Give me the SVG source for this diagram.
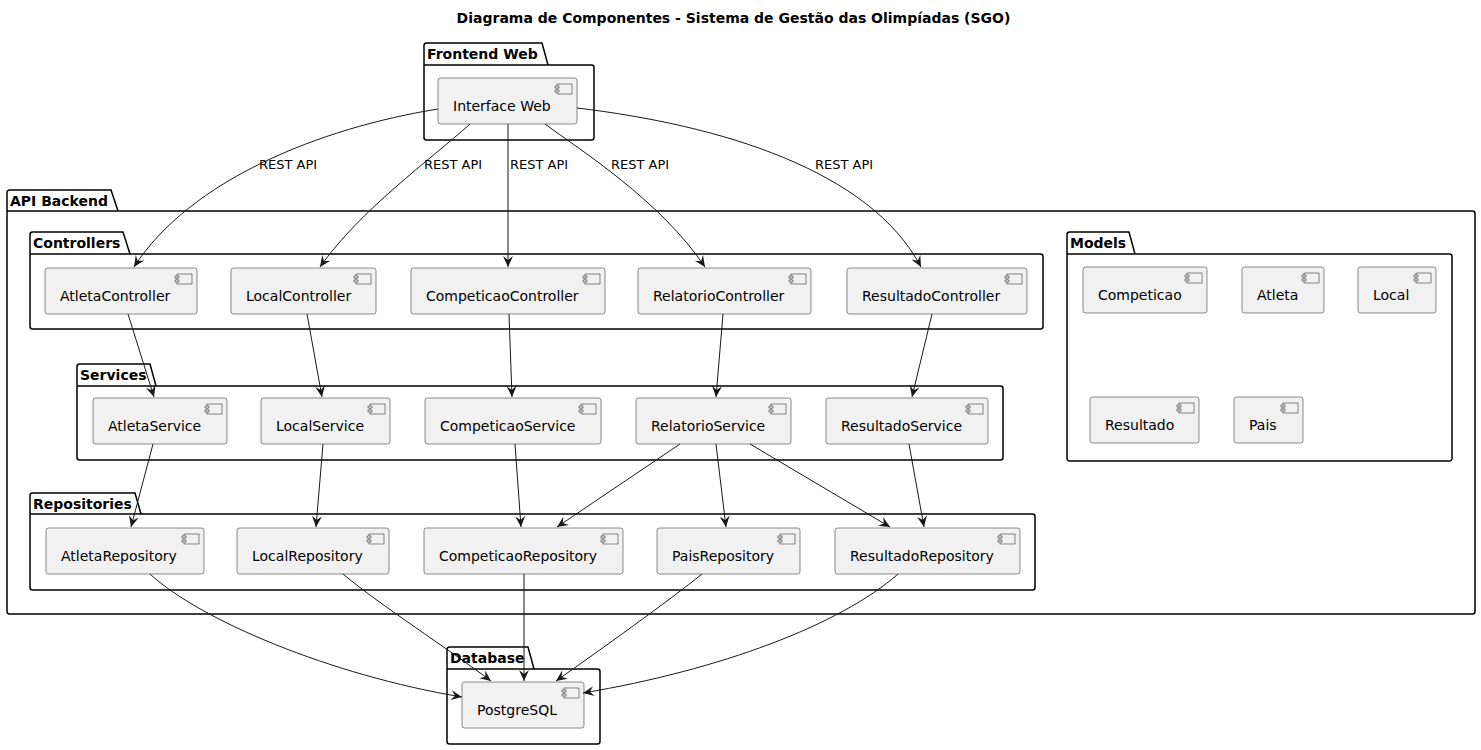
<svg xmlns="http://www.w3.org/2000/svg" width="1481" height="750" viewBox="0 0 1481 750">
<style>
.pkg{fill:none;stroke:#000;stroke-width:1.5}
.comp{fill:#F1F1F1;stroke:#181818;stroke-width:0.5}
.ico{fill:#F1F1F1;stroke:#181818;stroke-width:0.5}
.t{font-family:"DejaVu Sans",sans-serif;font-size:14px;fill:#000}
.pt{font-family:"DejaVu Sans",sans-serif;font-size:14px;font-weight:bold;fill:#000}
.el{font-family:"DejaVu Sans",sans-serif;font-size:13px;fill:#000}
.e{fill:none;stroke:#181818;stroke-width:1;marker-end:url(#arr)}
</style>
<defs>
<marker id="arr" markerUnits="userSpaceOnUse" viewBox="-12 -6 13 12" refX="0" refY="0" markerWidth="13" markerHeight="12" orient="auto">
<path d="M0,0 L-11,-5 L-7,0 L-11,5 Z" fill="#181818"/>
</marker>
<g id="icon">
<rect x="0" y="0" width="15" height="10" class="ico"/>
<rect x="-2" y="2" width="4" height="2" class="ico"/>
<rect x="-2" y="6" width="4" height="2" class="ico"/>
</g>
</defs>
<rect width="1481" height="750" fill="#fff"/>
<text x="733.5" y="23" text-anchor="middle" class="pt">Diagrama de Componentes - Sistema de Gestão das Olimpíadas (SGO)</text>

<!-- packages -->
<g id="pkg-frontend">
<path class="pkg" d="M426.5,43 L542,43 L548,65 L591.5,65 A2.5,2.5 0 0 1 594,67.5 L594,137.5 A2.5,2.5 0 0 1 591.5,140 L426.5,140 A2.5,2.5 0 0 1 424,137.5 L424,45.5 A2.5,2.5 0 0 1 426.5,43 Z M424,65 L548,65"/>
<text x="427" y="58.5" class="pt">Frontend Web</text>
</g>
<g id="pkg-api">
<path class="pkg" d="M9.5,190 L111,190 L118,211 L1472.5,211 A2.5,2.5 0 0 1 1475,213.5 L1475,611.5 A2.5,2.5 0 0 1 1472.5,614 L9.5,614 A2.5,2.5 0 0 1 7,611.5 L7,192.5 A2.5,2.5 0 0 1 9.5,190 Z M7,211 L118,211"/>
<text x="10" y="205.5" class="pt">API Backend</text>
</g>
<g id="pkg-controllers">
<path class="pkg" d="M32.5,232 L123,232 L130,254 L1040.5,254 A2.5,2.5 0 0 1 1043,256.5 L1043,326.5 A2.5,2.5 0 0 1 1040.5,329 L32.5,329 A2.5,2.5 0 0 1 30,326.5 L30,234.5 A2.5,2.5 0 0 1 32.5,232 Z M30,254 L130,254"/>
<text x="33" y="247.5" class="pt">Controllers</text>
</g>
<g id="pkg-services">
<path class="pkg" d="M79.5,364 L150,364 L156,386 L1000.5,386 A2.5,2.5 0 0 1 1003,388.5 L1003,457.5 A2.5,2.5 0 0 1 1000.5,460 L79.5,460 A2.5,2.5 0 0 1 77,457.5 L77,366.5 A2.5,2.5 0 0 1 79.5,364 Z M77,386 L156,386"/>
<text x="80" y="379.5" class="pt">Services</text>
</g>
<g id="pkg-repositories">
<path class="pkg" d="M32.5,493 L135,493 L141,514 L1032.5,514 A2.5,2.5 0 0 1 1035,516.5 L1035,587.5 A2.5,2.5 0 0 1 1032.5,590 L32.5,590 A2.5,2.5 0 0 1 30,587.5 L30,495.5 A2.5,2.5 0 0 1 32.5,493 Z M30,514 L141,514"/>
<text x="33" y="508.5" class="pt">Repositories</text>
</g>
<g id="pkg-models">
<path class="pkg" d="M1069.5,232 L1129,232 L1135,254 L1449.5,254 A2.5,2.5 0 0 1 1452,256.5 L1452,458.5 A2.5,2.5 0 0 1 1449.5,461 L1069.5,461 A2.5,2.5 0 0 1 1067,458.5 L1067,234.5 A2.5,2.5 0 0 1 1069.5,232 Z M1067,254 L1135,254"/>
<text x="1070" y="247.5" class="pt">Models</text>
</g>
<g id="pkg-database">
<path class="pkg" d="M449.5,647 L528,647 L534,669 L597.5,669 A2.5,2.5 0 0 1 600,671.5 L600,741.5 A2.5,2.5 0 0 1 597.5,744 L449.5,744 A2.5,2.5 0 0 1 447,741.5 L447,649.5 A2.5,2.5 0 0 1 449.5,647 Z M447,669 L534,669"/>
<text x="450" y="662.5" class="pt">Database</text>
</g>

<!-- components -->
<g id="InterfaceWeb"><rect class="comp" x="438" y="78" width="139" height="46" rx="2.5"/><use href="#icon" x="557" y="84"/><text x="453" y="111" class="t">Interface Web</text></g>

<g id="AtletaController"><rect class="comp" x="45" y="268" width="152" height="46" rx="2.5"/><use href="#icon" x="177" y="274"/><text x="60" y="301" class="t">AtletaController</text></g>
<g id="LocalController"><rect class="comp" x="231" y="268" width="145" height="46" rx="2.5"/><use href="#icon" x="356" y="274"/><text x="246" y="301" class="t">LocalController</text></g>
<g id="CompeticaoController"><rect class="comp" x="411" y="268" width="194" height="46" rx="2.5"/><use href="#icon" x="585" y="274"/><text x="426" y="301" class="t">CompeticaoController</text></g>
<g id="RelatorioController"><rect class="comp" x="638" y="268" width="173" height="46" rx="2.5"/><use href="#icon" x="791" y="274"/><text x="653" y="301" class="t">RelatorioController</text></g>
<g id="ResultadoController"><rect class="comp" x="847" y="268" width="180" height="46" rx="2.5"/><use href="#icon" x="1007" y="274"/><text x="862" y="301" class="t">ResultadoController</text></g>

<g id="AtletaService"><rect class="comp" x="93" y="398" width="134" height="46" rx="2.5"/><use href="#icon" x="207" y="404"/><text x="108" y="431" class="t">AtletaService</text></g>
<g id="LocalService"><rect class="comp" x="261" y="398" width="129" height="46" rx="2.5"/><use href="#icon" x="370" y="404"/><text x="276" y="431" class="t">LocalService</text></g>
<g id="CompeticaoService"><rect class="comp" x="425" y="398" width="176" height="46" rx="2.5"/><use href="#icon" x="581" y="404"/><text x="440" y="431" class="t">CompeticaoService</text></g>
<g id="RelatorioService"><rect class="comp" x="636" y="398" width="155" height="46" rx="2.5"/><use href="#icon" x="771" y="404"/><text x="651" y="431" class="t">RelatorioService</text></g>
<g id="ResultadoService"><rect class="comp" x="826" y="398" width="162" height="46" rx="2.5"/><use href="#icon" x="968" y="404"/><text x="841" y="431" class="t">ResultadoService</text></g>

<g id="AtletaRepository"><rect class="comp" x="46" y="528" width="158" height="46" rx="2.5"/><use href="#icon" x="184" y="534"/><text x="61" y="561" class="t">AtletaRepository</text></g>
<g id="LocalRepository"><rect class="comp" x="237" y="528" width="152" height="46" rx="2.5"/><use href="#icon" x="369" y="534"/><text x="252" y="561" class="t">LocalRepository</text></g>
<g id="CompeticaoRepository"><rect class="comp" x="424" y="528" width="199" height="46" rx="2.5"/><use href="#icon" x="603" y="534"/><text x="439" y="561" class="t">CompeticaoRepository</text></g>
<g id="PaisRepository"><rect class="comp" x="657" y="528" width="143" height="46" rx="2.5"/><use href="#icon" x="780" y="534"/><text x="672" y="561" class="t">PaisRepository</text></g>
<g id="ResultadoRepository"><rect class="comp" x="835" y="528" width="185" height="46" rx="2.5"/><use href="#icon" x="1000" y="534"/><text x="850" y="561" class="t">ResultadoRepository</text></g>

<g id="Competicao"><rect class="comp" x="1083" y="267" width="124" height="46" rx="2.5"/><use href="#icon" x="1187" y="273"/><text x="1098" y="300" class="t">Competicao</text></g>
<g id="Atleta"><rect class="comp" x="1242" y="267" width="82" height="46" rx="2.5"/><use href="#icon" x="1304" y="273"/><text x="1257" y="300" class="t">Atleta</text></g>
<g id="Local"><rect class="comp" x="1358" y="267" width="78" height="46" rx="2.5"/><use href="#icon" x="1416" y="273"/><text x="1373" y="300" class="t">Local</text></g>
<g id="Resultado"><rect class="comp" x="1090" y="397" width="109" height="46" rx="2.5"/><use href="#icon" x="1179" y="403"/><text x="1105" y="430" class="t">Resultado</text></g>
<g id="Pais"><rect class="comp" x="1234" y="397" width="69" height="46" rx="2.5"/><use href="#icon" x="1283" y="403"/><text x="1249" y="430" class="t">Pais</text></g>

<g id="PostgreSQL"><rect class="comp" x="462" y="682" width="122" height="46" rx="2.5"/><use href="#icon" x="564" y="688"/><text x="477" y="715" class="t">PostgreSQL</text></g>

<!-- connectors -->
<g id="connectors">
<path class="e" d="M438,109 C320,128 190,180 134,267"/>
<path class="e" d="M470,124 C430,160 360,210 320,267"/>
<path class="e" d="M508,124 L508,267"/>
<path class="e" d="M545,124 C580,150 660,200 705,267"/>
<path class="e" d="M577,108 C720,125 870,170 921,267"/>
<text x="259" y="169" class="el">REST API</text>
<text x="424" y="169" class="el">REST API</text>
<text x="510" y="169" class="el">REST API</text>
<text x="611" y="169" class="el">REST API</text>
<text x="815" y="169" class="el">REST API</text>

<path class="e" d="M128,314 L154,397"/>
<path class="e" d="M307,314 L322,397"/>
<path class="e" d="M509,314 L512,397"/>
<path class="e" d="M723,314 L716,397"/>
<path class="e" d="M932,314 L912,397"/>

<path class="e" d="M153,444 L131,527"/>
<path class="e" d="M323,444 L316,527"/>
<path class="e" d="M515,444 L521,527"/>
<path class="e" d="M680,444 L557,527"/>
<path class="e" d="M716,444 L726,527"/>
<path class="e" d="M750,444 L890,527"/>
<path class="e" d="M909,444 L924,527"/>

<path class="e" d="M150,574 C200,620 330,675 462,697"/>
<path class="e" d="M343,574 C380,605 450,650 491,681"/>
<path class="e" d="M524,574 L524,681"/>
<path class="e" d="M702,574 C670,600 600,650 556,681"/>
<path class="e" d="M898,574 C840,625 720,670 583,693"/>
</g>
</svg>
